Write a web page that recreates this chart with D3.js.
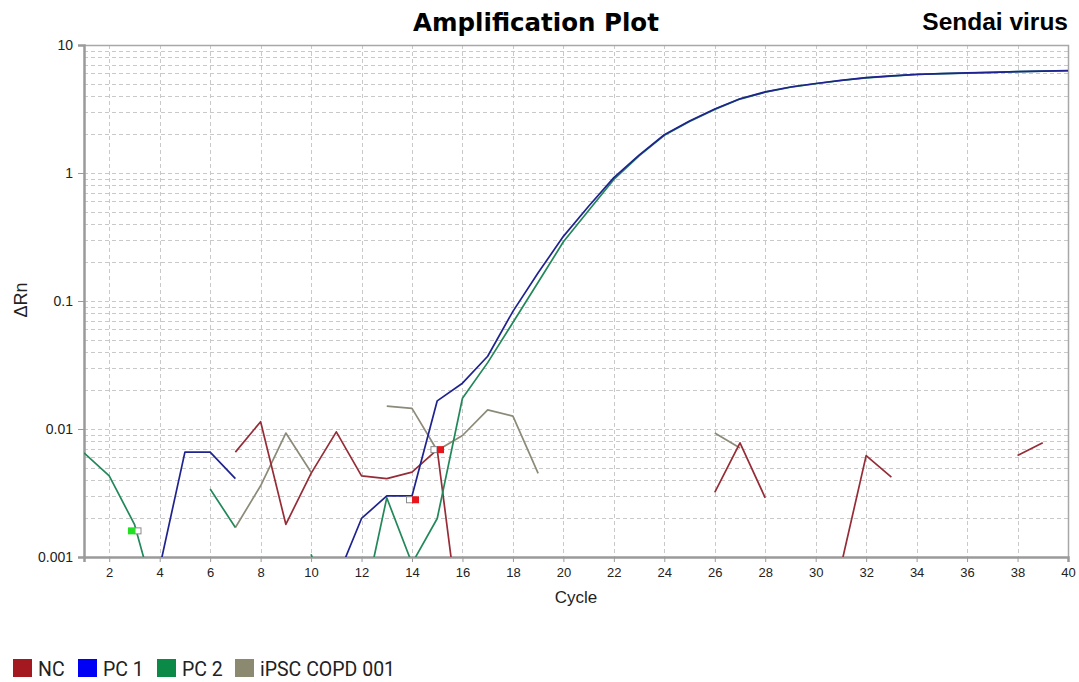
<!DOCTYPE html>
<html>
<head>
<meta charset="utf-8">
<script src="https://cdn.jsdelivr.net/npm/d3@7"></script>
<style>
  html, body { margin: 0; padding: 0; background: #fff; }
  svg { display: block; }
</style>
</head>
<body>
<svg id="chart" width="1079" height="682"></svg>
<script>
// Amplification plot data: ΔRn per cycle (null = non-positive, not drawn on log scale)
const cycles = d3.range(1, 41);

const ncValues = [
  null, null, null, null, null, null, 0.0066, 0.0114, 0.0018, 0.0045,
  0.0095, 0.0043, 0.0041, 0.0046, 0.0069, 0.0002, null, null, null, null,
  null, null, null, null, null, 0.0032, 0.0078, 0.0029, null, null,
  0.00085, 0.0062, 0.0042, null, null, null, null, 0.0062, 0.0078, null
];

const pc1Values = [
  null, null, null, 0.00083, 0.0066, 0.0066, 0.0041, null, null, null,
  0.00066, 0.0020, 0.0030, 0.0030, 0.0166, 0.0228, 0.037, 0.083, 0.166, 0.32,
  0.55, 0.92, 1.38, 1.99, 2.55, 3.16, 3.8, 4.3, 4.7, 5.0,
  5.3, 5.56, 5.73, 5.9, 5.98, 6.05, 6.12, 6.2, 6.25, 6.3
];

const pc2Values = [
  0.0065, 0.0043, 0.0018, 0.00035, null, 0.0034, 0.0017, null, null, 0.00105,
  0.00029, 0.00035, 0.0029, 0.00089, 0.0020, 0.0174, 0.033, 0.068, 0.14, 0.29,
  0.51, 0.89, 1.36, 1.97, 2.53, 3.14, 3.78, 4.28, 4.68, 4.98,
  5.28, 5.54, 5.72, 5.88, 5.97, 6.04, 6.11, 6.19, 6.24, 6.29
];

const ipscValues = [
  null, null, null, null, null, null, 0.0017, 0.0036, 0.0093, 0.0046,
  null, null, 0.0151, 0.0145, 0.0068, 0.0089, 0.0141, 0.0126, 0.0045, null,
  null, null, null, null, null, 0.0093, 0.0071, null, null, null,
  null, null, null, null, null, null, null, null, null, null
];

const seriesNames = ["NC", "PC 1", "PC 2", "iPSC COPD 001"];
const lineColors = ["#962c36", "#1f238f", "#22885a", "#8c8a78"];
const legendColors = ["#a3191f", "#0000f4", "#0b8a47", "#8b8970"];

// Ct call markers (filled) and their companion markers (open)
const ctCycles = [2.88, 14.14, 15.13];
const ctValues = [0.0016, 0.0028, 0.0069];
const ctFills = ["#22e022", "#e8161c", "#e8161c"];
const openCycles = [3.14, 13.9, 14.87];
const openValues = [0.0016, 0.0028, 0.0069];

const xTicks = d3.range(2, 41, 2);
const yTicks = [0.001, 0.01, 0.1, 1, 10];
const yTickLabels = ["0.001", "0.01", "0.1", "1", "10"];

const title = "Amplification Plot";
const subtitle = "Sendai virus";
const xLabel = "Cycle";
const yLabel = "ΔRn";

// ---- layout ----
const svg = d3.select("#chart");
const plotL = 84, plotR = 1068, plotT = 45, plotB = 557;

const x = d3.scaleLinear().domain([1, 40]).range([plotL, plotR]);
const y = d3.scaleLog().domain([0.001, 10]).range([plotB, plotT]);

svg.append("defs").append("clipPath").attr("id", "plotClip")
  .append("rect").attr("x", plotL).attr("y", plotT)
  .attr("width", plotR - plotL).attr("height", plotB - plotT);

// grid
const grid = svg.append("g").attr("stroke", "#c9c9c9").attr("stroke-width", 1)
  .attr("stroke-dasharray", "4,3");
const minorVals = [];
for (let e = -3; e < 1; e++) {
  for (let m = 1; m <= 9; m++) minorVals.push(m * Math.pow(10, e));
}
grid.selectAll("line.h").data(minorVals.filter(v => v > 0.001)).join("line")
  .attr("x1", plotL).attr("x2", plotR)
  .attr("y1", d => Math.round(y(d)) + 0.5).attr("y2", d => Math.round(y(d)) + 0.5);
grid.selectAll("line.v").data(xTicks.filter(t => t < 40)).join("line")
  .attr("y1", plotT).attr("y2", plotB)
  .attr("x1", d => Math.round(x(d)) + 0.5).attr("x2", d => Math.round(x(d)) + 0.5);

// frame (top and right)
svg.append("path")
  .attr("d", `M${plotL},${plotT + 0.5}H${plotR + 0.5}V${plotB}`)
  .attr("fill", "none").attr("stroke", "#a8a8a8").attr("stroke-width", 1.5);

// axes
const xAxis = d3.axisBottom(x).tickValues(xTicks).tickSize(5).tickPadding(6)
  .tickFormat(d3.format("d"));
const gx = svg.append("g").attr("transform", `translate(0,${plotB})`).call(xAxis);
gx.select(".domain").attr("stroke", "#9a9a9a").attr("stroke-width", 2.5);
gx.selectAll(".tick line").attr("stroke", "#9a9a9a");
gx.selectAll("text").attr("font-family", "Liberation Sans, Arial, sans-serif")
  .attr("font-size", 13).attr("fill", "#222");

const yAxis = d3.axisLeft(y).tickValues(yTicks).tickSize(6).tickPadding(5)
  .tickFormat((d, i) => yTickLabels[i]);
const gy = svg.append("g").attr("transform", `translate(${plotL},0)`).call(yAxis);
gy.select(".domain").attr("stroke", "#9a9a9a").attr("stroke-width", 2.5);
gy.selectAll(".tick line").attr("stroke", "#9a9a9a");
gy.selectAll("text").attr("font-family", "Liberation Sans, Arial, sans-serif")
  .attr("font-size", 14).attr("fill", "#222");

// curves
const allSeries = [ncValues, pc1Values, pc2Values, ipscValues];
const drawOrder = [3, 0, 2, 1];
const line = d3.line()
  .defined(d => d.v !== null && d.v > 0)
  .x(d => x(d.c)).y(d => y(d.v));

const plot = svg.append("g").attr("clip-path", "url(#plotClip)");
drawOrder.forEach(i => {
  const pts = cycles.map((c, k) => ({ c, v: allSeries[i][k] }));
  plot.append("path")
    .attr("d", line(pts))
    .attr("fill", "none")
    .attr("stroke", lineColors[i])
    .attr("stroke-width", 1.7)
    .attr("stroke-linejoin", "round");
});

// Ct markers
const ms = 7;
svg.append("g").selectAll("rect").data(openCycles).join("rect")
  .attr("x", (d) => x(d) - 3)
  .attr("y", (d, i) => y(openValues[i]) - 3)
  .attr("width", 6).attr("height", 6)
  .attr("fill", "#fff").attr("stroke", "#8a8a8a").attr("stroke-width", 1);
svg.append("g").selectAll("rect").data(ctCycles).join("rect")
  .attr("x", d => x(d) - ms / 2)
  .attr("y", (d, i) => y(ctValues[i]) - ms / 2)
  .attr("width", ms).attr("height", ms)
  .attr("fill", (d, i) => ctFills[i]);

// titles
svg.append("text").attr("x", 536).attr("y", 31).attr("text-anchor", "middle")
  .attr("font-family", "DejaVu Sans, Verdana, sans-serif").attr("font-weight", "bold")
  .attr("font-size", 24.5).attr("fill", "#000").text(title);
svg.append("text").attr("x", 1068).attr("y", 30).attr("text-anchor", "end")
  .attr("font-family", "Liberation Sans, Arial, sans-serif").attr("font-weight", "bold")
  .attr("font-size", 24.5).attr("fill", "#000").text(subtitle);

// axis titles
svg.append("text").attr("x", 576).attr("y", 603).attr("text-anchor", "middle")
  .attr("font-family", "Liberation Sans, Arial, sans-serif")
  .attr("font-size", 17).attr("fill", "#222").text(xLabel);
svg.append("text").attr("transform", "translate(27,300) rotate(-90)")
  .attr("text-anchor", "middle")
  .attr("font-family", "Liberation Sans, Arial, sans-serif")
  .attr("font-size", 18).attr("fill", "#222").text(yLabel);

// legend
const legendX = [13, 78, 157, 235];
const lg = svg.append("g");
seriesNames.forEach((name, i) => {
  lg.append("rect").attr("x", legendX[i]).attr("y", 659)
    .attr("width", 19).attr("height", 18).attr("fill", legendColors[i]);
  lg.append("text").attr("x", legendX[i] + 25).attr("y", 676)
    .attr("font-family", "Roboto, sans-serif").attr("font-size", 19.5)
    .attr("fill", "#222").text(name);
});
</script>
</body>
</html>
